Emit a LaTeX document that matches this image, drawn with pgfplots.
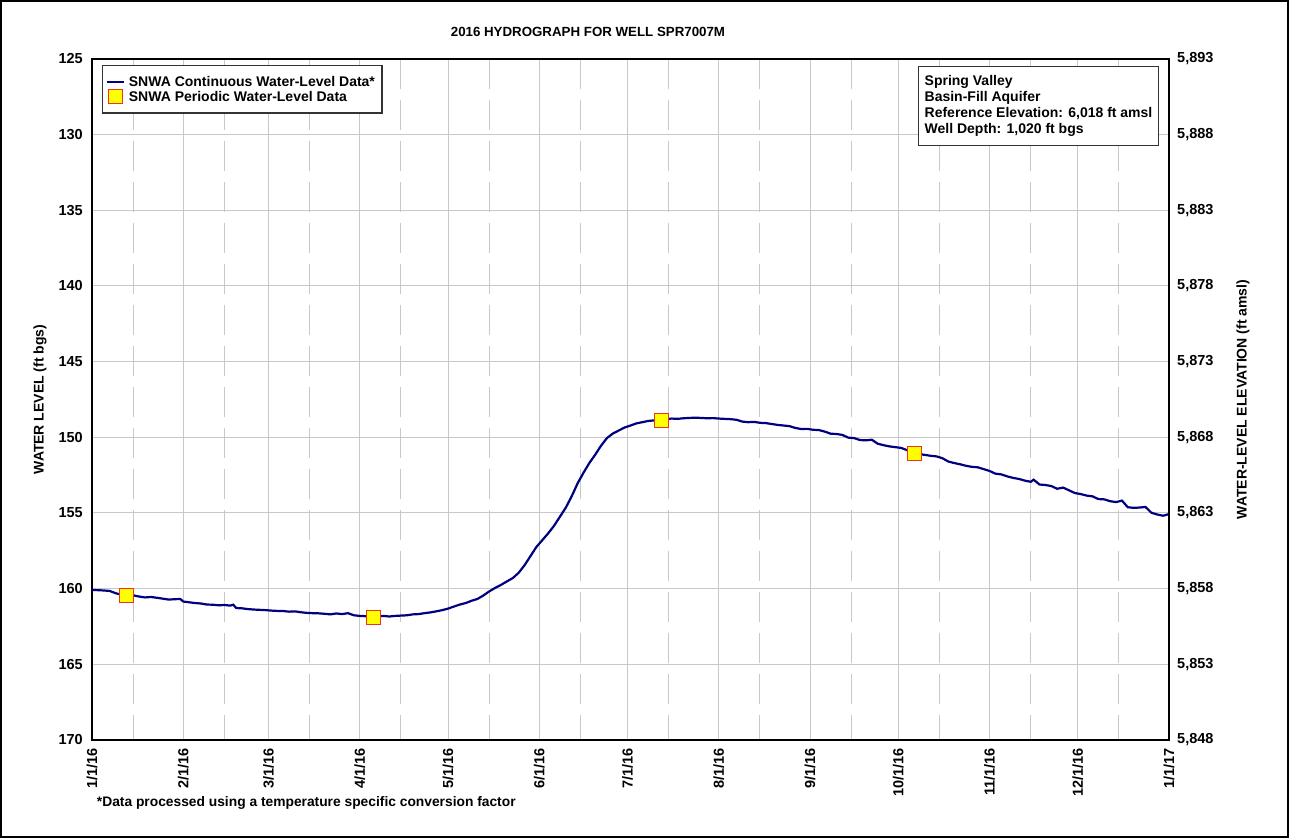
\documentclass[border=0pt]{standalone}
\usepackage{pgfplots}
\usepackage{pgfplotstable}
\pgfplotsset{compat=1.18}
\usepackage{fontspec}
\setmainfont{Liberation Sans}
\definecolor{navyline}{RGB}{0,0,128}
\definecolor{gridgray}{RGB}{200,200,200}
\definecolor{mkred}{RGB}{240,50,30}
\definecolor{mkyel}{RGB}{255,255,0}
\newcommand{\tickfont}{\bfseries\fontsize{14.5}{15}\selectfont}
\newcommand{\txtfont}{\bfseries\fontsize{14}{16}\selectfont}

\pgfplotstableread{
day lev
0 160.08
2 160.10
4 160.12
6 160.15
8 160.30
10 160.40
12 160.45
14 160.44
16 160.52
18 160.58
20 160.55
22 160.60
24 160.66
26 160.72
28 160.70
30 160.68
31 160.85
33 160.90
35 160.95
37 160.98
39 161.05
41 161.06
43 161.10
45 161.08
47 161.12
48 161.06
49 161.28
51 161.30
53 161.35
55 161.38
57 161.40
59 161.42
61 161.45
63 161.47
65 161.48
67 161.52
69 161.50
71 161.56
73 161.60
75 161.62
77 161.63
79 161.66
81 161.70
83 161.64
85 161.68
87 161.62
89 161.76
91 161.80
93 161.82
95 161.85
97 161.82
99 161.80
101 161.84
103 161.80
105 161.78
107 161.76
109 161.70
111 161.68
113 161.62
115 161.57
117 161.50
119 161.42
121 161.32
123 161.18
125 161.05
127 160.95
129 160.80
131 160.68
133 160.45
135 160.18
137 159.95
139 159.75
141 159.52
143 159.30
145 158.95
147 158.45
149 157.85
151 157.25
153 156.80
155 156.35
157 155.85
159 155.25
161 154.65
163 153.90
165 153.05
167 152.35
169 151.70
171 151.15
173 150.55
175 150.05
177 149.75
179 149.55
181 149.35
183 149.22
185 149.08
187 149.00
189 148.92
191 148.88
193 148.84
195 148.80
197 148.76
199 148.78
201 148.74
203 148.72
205 148.70
207 148.72
209 148.74
211 148.73
213 148.76
215 148.78
217 148.80
219 148.84
221 148.96
223 149.00
225 148.98
227 149.04
229 149.06
231 149.12
233 149.18
235 149.22
237 149.26
239 149.38
241 149.45
243 149.44
245 149.50
247 149.52
249 149.62
251 149.76
253 149.78
255 149.84
257 150.02
259 150.05
261 150.18
263 150.20
265 150.16
267 150.42
269 150.52
271 150.60
273 150.65
275 150.70
277 150.85
279 151.00
281 151.10
283 151.16
285 151.22
287 151.26
289 151.38
291 151.60
293 151.70
295 151.78
297 151.88
299 151.95
301 151.98
303 152.10
305 152.22
307 152.40
309 152.45
311 152.58
313 152.68
315 152.75
317 152.86
319 152.94
320 152.80
322 153.12
324 153.15
326 153.22
328 153.40
330 153.32
332 153.50
334 153.68
336 153.75
338 153.85
340 153.90
342 154.08
344 154.10
346 154.22
348 154.28
350 154.18
352 154.62
354 154.66
356 154.64
358 154.60
360 154.98
362 155.10
364 155.18
366 155.07
}\contdata

\pgfplotstableread{
day lev
11.6 160.46
95.6 161.89
193.6 148.85
279.4 151.06
}\perdata

\begin{document}
\begin{tikzpicture}
\begin{axis}[
  scale only axis, width=1077pt, height=681pt,
  xmin=0, xmax=366, ymin=125, ymax=170, y dir=reverse,
  xtick={0,31,60,91,121,152,182,213,244,274,305,335,366},
  xticklabels={1/1/16,2/1/16,3/1/16,4/1/16,5/1/16,6/1/16,7/1/16,8/1/16,9/1/16,10/1/16,11/1/16,12/1/16,1/1/17},
  minor xtick={14,45,74,105,135,166,196,227,258,288,319,349},
  ytick={125,130,...,170},
  /pgf/number format/assume math mode=true,
  xmajorgrids, ymajorgrids, xminorgrids,
  major grid style={gridgray, line width=1pt},
  minor grid style={gridgray, line width=1pt, dash pattern=on 30pt off 11pt},
  major tick length=0pt, minor tick length=0pt,
  axis line style={line width=1.5pt, black},
  xticklabel style={font=\tickfont, rotate=90, anchor=east, inner sep=0pt, inner xsep=8pt},
  yticklabel style={font=\tickfont, anchor=east, inner sep=0pt, inner xsep=9pt},
  ylabel={WATER LEVEL (ft bgs)},
  ylabel style={font=\txtfont, at={(axis description cs:-0.0483,0.5)}, anchor=center},
  legend style={at={(0.0093,0.991)}, anchor=north west, font=\txtfont,
    draw=black!80, line width=1.2pt, inner xsep=3pt, inner ysep=9pt,
    row sep=0pt, nodes={inner sep=1.5pt, inner xsep=4pt}},
  legend cell align=left,
]
\addplot[navyline, line width=2.2pt] table[x=day, y=lev] {\contdata};
\addlegendentry{SNWA Continuous Water-Level Data*}
\addplot[only marks, mark=square*, mark size=7pt, mark options={fill=mkyel, draw=mkred, line width=0.8pt}] table[x=day, y=lev] {\perdata};
\addlegendentry{SNWA Periodic Water-Level Data}
\coordinate (LL) at (axis description cs:0,0);
\coordinate (UR) at (axis description cs:1,1);
\coordinate (TT) at (axis description cs:0.4605,1.0404);
\coordinate (FN) at (axis description cs:0.0044,-0.0925);
\coordinate (BX) at (axis description cs:0.9907,0.9897);
\end{axis}
\begin{axis}[
  scale only axis, width=1077pt, height=681pt,
  xmin=0, xmax=366, ymin=5848, ymax=5893,
  axis x line=none, axis y line*=right,
  ytick={5848,5853,5858,5863,5868,5873,5878,5883,5888,5893},
  yticklabels={{5,848},{5,853},{5,858},{5,863},{5,868},{5,873},{5,878},{5,883},{5,888},{5,893}},
  major tick length=0pt,
  axis line style={line width=1.5pt, black},
  yticklabel style={font=\tickfont, anchor=west, inner sep=0pt, inner xsep=8pt},
  ylabel={WATER-LEVEL ELEVATION (ft amsl)},
  ylabel style={font=\txtfont, at={(axis description cs:1.0687,0.5)}, anchor=center},
]
\end{axis}
\node[font=\bfseries\fontsize{13.3}{15}\selectfont] at (TT) {2016 HYDROGRAPH FOR WELL SPR7007M};
\node[draw=black!80, line width=1.2pt, fill=white, anchor=north east, align=left, font=\txtfont, inner xsep=6pt, inner ysep=9pt] at (BX) {Spring Valley\\Basin-Fill Aquifer\\Reference Elevation: 6,018 ft amsl\\Well Depth: 1,020 ft bgs};
\node[anchor=west, font=\bfseries\fontsize{13.8}{15}\selectfont, inner sep=0pt] at (FN) {*Data processed using a temperature specific conversion factor};
\draw[line width=2pt, black] ([shift={(-91pt,-97pt)}]LL) rectangle ([shift={(119pt,58pt)}]UR);
\end{tikzpicture}
\end{document}
